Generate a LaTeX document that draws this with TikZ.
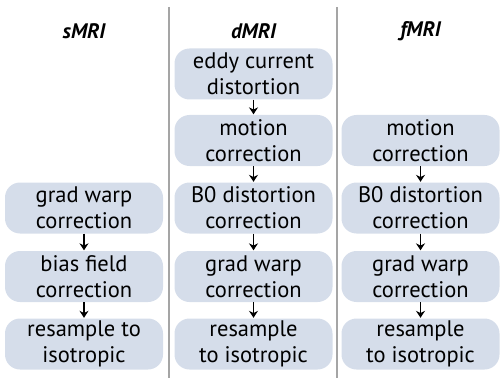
\documentclass[tikz,border=0pt]{standalone}
\usepackage{fontspec}
\setmainfont{PT Sans}
\usetikzlibrary{arrows.meta}
\definecolor{boxblue}{RGB}{213,221,234}
\definecolor{rulegray}{RGB}{165,165,165}
\tikzset{
	stepbox/.style={fill=boxblue, rounded corners=15pt, minimum width=158pt, minimum height=51pt, align=center, font=\fontsize{22.5}{26}\selectfont, inner sep=0pt},
	head/.style={font=\fontsize{21}{22}\selectfont\bfseries\itshape},
	flow/.style={-{Stealth[length=7pt,width=9pt]}, line width=1.4pt, shorten >=0.5pt}
}
\begin{document}
\begin{tikzpicture}[x=1pt, y=1pt]
		\useasboundingbox (0,0) rectangle (500,378);
		\draw [rulegray, line width=2pt] (169,371) -- (169,0);
		\draw [rulegray, line width=2pt] (337,371) -- (337,0);

		\node (hs) at (84,347) [head] {sMRI};
		\node (hd) at (253.5,347) [head] {dMRI};
		\node (hf) at (420.5,347) [head] {fMRI};

		\node (s1) at (84,170) [stepbox] {grad warp\\correction};
		\node (s2) at (84,101.5) [stepbox] {bias field\\correction};
		\node (s3) at (84,34) [stepbox] {resample to\\isotropic};

		\node (d1) at (253.5,304) [stepbox] {eddy current\\distortion};
		\node (d2) at (253.5,237.5) [stepbox] {motion\\correction};
		\node (d3) at (253.5,170) [stepbox] {B0 distortion\\correction};
		\node (d4) at (253.5,101.5) [stepbox] {grad warp\\correction};
		\node (d5) at (253.5,34) [stepbox] {resample\\to isotropic};

		\node (f1) at (420.5,237.5) [stepbox] {motion\\correction};
		\node (f2) at (420.5,170) [stepbox] {B0 distortion\\correction};
		\node (f3) at (420.5,101.5) [stepbox] {grad warp\\correction};
		\node (f4) at (420.5,34) [stepbox] {resample\\to isotropic};

		\draw [flow] (s1) -- (s2);
		\draw [flow] (s2) -- (s3);
		\draw [flow] (d1) -- (d2);
		\draw [flow] (d2) -- (d3);
		\draw [flow] (d3) -- (d4);
		\draw [flow] (d4) -- (d5);
		\draw [flow] (f1) -- (f2);
		\draw [flow] (f2) -- (f3);
		\draw [flow] (f3) -- (f4);
	\end{tikzpicture}
\end{document}
